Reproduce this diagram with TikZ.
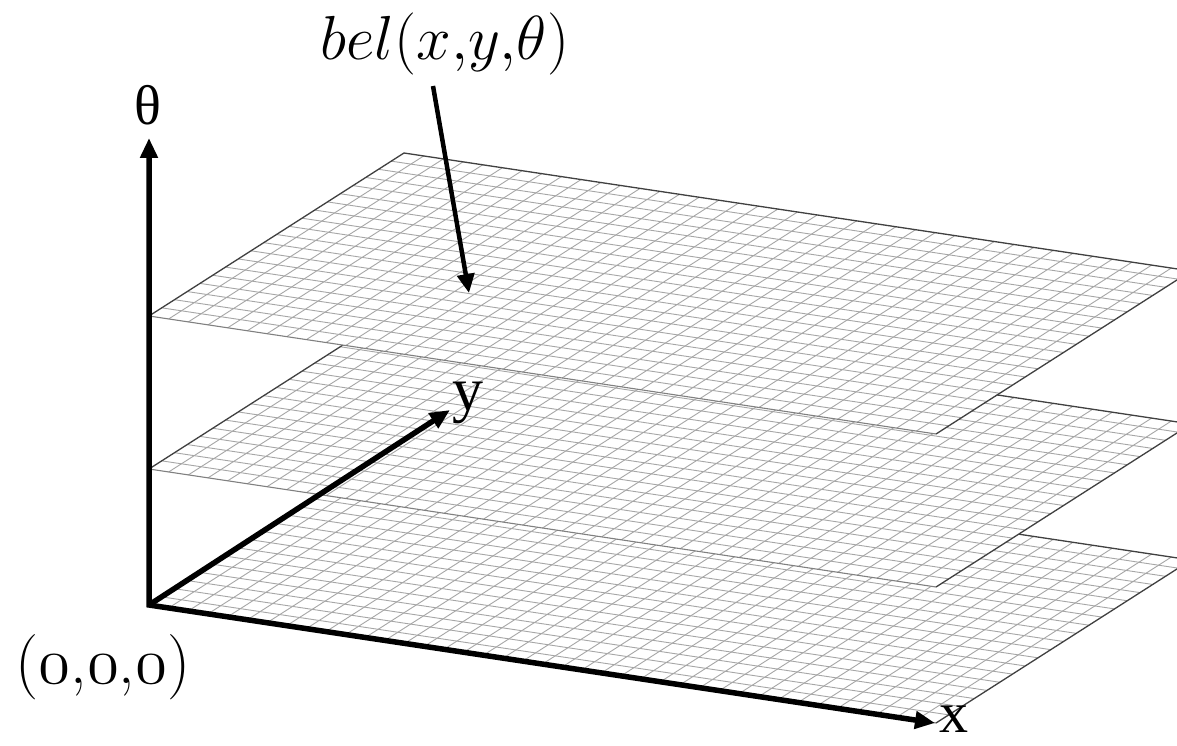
\documentclass[tikz,border=0pt]{standalone}
\usepackage{fontspec}
\newfontfamily\lsf{Liberation Serif}
\usetikzlibrary{arrows.meta}
\newcommand{\osz}{{\usefont{OML}{cmm}{m}{it}0}}
\begin{document}
\begin{tikzpicture}[x=1pt,y=-1pt,
  gridline/.style={draw=gray!70, line width=0.9pt},
  planeedge/.style={draw=black!75, line width=1.3pt},
  frontedge/.style={draw=black!50, line width=1.1pt},
  axisline/.style={line width=5.5pt},
  axisarrow/.style={line width=5.5pt, -{Triangle[length=20pt,width=17pt]}},
  pointer/.style={line width=4.5pt, -{Triangle[length=19pt,width=17pt]}},
  lbl/.style={inner sep=0pt, text=black}]
\useasboundingbox (0,0) rectangle (1177,746);
\begin{scope}
\clip (0,0) rectangle (1177,746);
\foreach \oy in {605,469,316} {
  \begin{scope}[shift={(149,\oy)}, x={(787pt,-118pt)}, y={(255pt,163pt)}]
    \fill[white] (0,0) -- (1,0) -- (1,1) -- (0,1) -- cycle;
    \foreach \i in {1,...,39} \draw[gridline] (\i/40,0) -- (\i/40,1);
    \foreach \j in {1,...,19} \draw[gridline] (0,\j/20) -- (1,\j/20);
    \draw[frontedge] (0,0) -- (1,0);
    \draw[planeedge] (1,0) -- (1,1) -- (0,1) -- (0,0);
  \end{scope}
}
\end{scope}
% axes
\coordinate (O) at (149,605);
\coordinate (Ttip) at (149,138);
\coordinate (Ytip) at (450,410);
\coordinate (Xtip) at (935,723);
\draw[axisline, {Triangle[length=20pt,width=17pt]}-{Triangle[length=20pt,width=17pt]}, line join=miter] (Ttip) -- (O) -- (Xtip);
\draw[axisarrow] (O) -- (Ytip);
% labels
\node[lbl, font=\lsf\fontsize{56}{60}\selectfont] (tlab) at (148,105) {θ};
\node[lbl, font=\lsf\fontsize{62}{66}\selectfont] (ylab) at (468,403) {y};
\node[lbl, font=\lsf\fontsize{58}{62}\selectfont] (xlab) at (954,719) {x};
\node[lbl, scale=3.15, font=\fontsize{20.74}{24}\selectfont] (orig) at (103,667) {(\osz,\osz,\osz)};
\node[lbl, scale=3, font=\fontsize{20}{24}\selectfont] (bel) at (445,44) {$bel(x{,}y{,}\theta)$};
\coordinate (bs) at (433,86);
\coordinate (bt) at (469,293);
\draw[pointer] (bs) -- (bt);
\end{tikzpicture}
\end{document}
